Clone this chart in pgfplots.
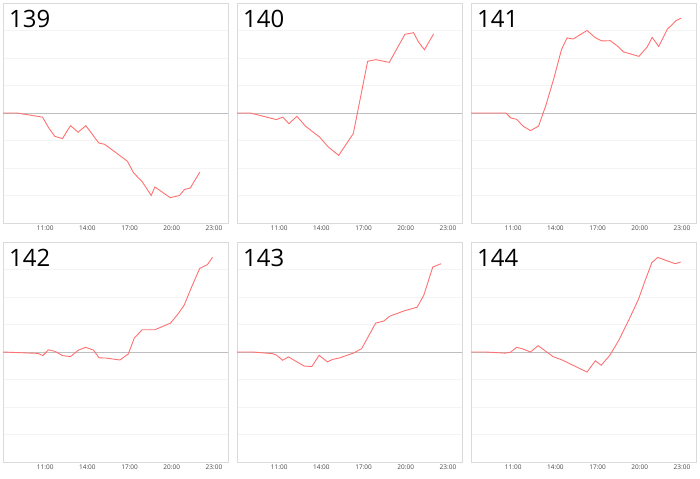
\documentclass[border=0pt]{standalone}
\usepackage{pgfplots}
\pgfplotsset{compat=1.18}
\usepackage{fontspec}
\setmainfont{Open Sans}
\definecolor{lred}{RGB}{255,112,112}
\definecolor{frame}{RGB}{218,218,218}
\definecolor{zline}{RGB}{190,190,190}
\definecolor{gridc}{RGB}{244,244,244}
\definecolor{tickc}{RGB}{70,70,70}
\pgfplotsset{
  panel/.style={
    scale only axis, width=225bp, height=220bp,
    xmin=8, xmax=24, ymin=-4, ymax=4,
    xtick={11,14,17,20,23},
    xticklabels={11:00,14:00,17:00,20:00,23:00},
    ytick={-3,-2,-1,1,2,3}, yticklabels={},
    ymajorgrids, major grid style={draw=gridc, line width=0.5pt},
    major tick length=0pt,
    axis line style={draw=frame, line width=0.8pt},
    tick label style={font=\fontsize{6.5}{7}\selectfont, text=tickc},
    xticklabel style={yshift=1bp},
    /pgf/number format/assume math mode=true,
    clip=false,
  },
  ser/.style={color=lred, line width=0.9pt, mark=none},
}
\newcommand{\zeroline}{\draw[zline, line width=0.8pt] (axis cs:8,0) -- (axis cs:24,0);}
\newcommand{\lab}[1]{\node[anchor=north west, inner sep=0pt, font=\fontsize{24}{24}\selectfont] at ([xshift=6bp,yshift=-7bp]rel axis cs:0,1) {#1};}
\begin{document}
\begin{tikzpicture}[x=1bp,y=1bp]
\useasboundingbox (0,0) rectangle (700,479);
% 139
\begin{axis}[panel, at={(3bp,256bp)}, anchor=south west]
\zeroline
\addplot[ser] coordinates {(8,0)(8.97,0)(10.81,-0.15)(11.26,-0.55)(11.69,-0.85)(12.23,-0.93)(12.8,-0.46)(13.34,-0.70)(13.89,-0.46)(14.81,-1.09)(15.23,-1.14)(16.84,-1.75)(17.29,-2.18)(17.9,-2.50)(18.54,-3.0)(18.8,-2.69)(19.89,-3.08)(20.55,-3.0)(20.91,-2.78)(21.31,-2.73)(22.0,-2.15)};
\lab{139}
\end{axis}
% 140
\begin{axis}[panel, at={(237bp,256bp)}, anchor=south west]
\zeroline
\addplot[ser] coordinates {(8,0)(8.95,0)(10.79,-0.24)(11.26,-0.15)(11.69,-0.39)(12.26,-0.12)(12.87,-0.48)(13.86,-0.87)(14.5,-1.24)(15.23,-1.54)(16.27,-0.75)(17.29,1.88)(17.88,1.94)(18.83,1.84)(19.94,2.86)(20.55,2.92)(20.91,2.58)(21.33,2.30)(21.97,2.87)};
\lab{140}
\end{axis}
% 141
\begin{axis}[panel, at={(471bp,256bp)}, anchor=south west]
\zeroline
\addplot[ser] coordinates {(8,0)(10.48,0)(10.83,-0.18)(11.24,-0.23)(11.71,-0.48)(12.23,-0.64)(12.8,-0.48)(13.32,0.27)(13.88,1.24)(14.43,2.30)(14.83,2.73)(15.26,2.69)(16.25,3.0)(16.86,2.73)(17.31,2.62)(17.9,2.63)(18.45,2.42)(18.85,2.22)(19.94,2.06)(20.53,2.40)(20.88,2.75)(21.35,2.42)(21.95,3.04)(22.59,3.36)(22.94,3.45)};
\lab{141}
\end{axis}
% 142
\begin{axis}[panel, at={(3bp,17bp)}, anchor=south west]
\zeroline
\addplot[ser] coordinates {(8,0)(10.48,-0.05)(10.83,-0.13)(11.24,0.08)(11.71,0.02)(12.23,-0.13)(12.8,-0.17)(13.36,0.07)(13.88,0.17)(14.43,0.07)(14.83,-0.21)(15.30,-0.22)(16.32,-0.29)(16.91,-0.07)(17.34,0.51)(17.9,0.81)(18.8,0.81)(19.91,1.05)(20.41,1.36)(20.88,1.70)(21.4,2.35)(21.99,3.04)(22.54,3.18)(22.9,3.44)};
\lab{142}
\end{axis}
% 143
\begin{axis}[panel, at={(237bp,17bp)}, anchor=south west]
\zeroline
\addplot[ser] coordinates {(8,0)(9.13,0)(10.53,-0.06)(10.83,-0.12)(11.24,-0.30)(11.66,-0.18)(12.77,-0.51)(13.32,-0.53)(13.84,-0.12)(14.43,-0.36)(14.79,-0.27)(15.26,-0.22)(16.28,-0.04)(16.86,0.12)(17.86,1.05)(18.45,1.13)(18.85,1.30)(19.91,1.50)(20.81,1.63)(21.28,2.06)(21.92,3.09)(22.51,3.21)};
\lab{143}
\end{axis}
% 144
\begin{axis}[panel, at={(471bp,17bp)}, anchor=south west]
\zeroline
\addplot[ser] coordinates {(8,0)(9.04,0)(10.41,-0.04)(10.81,-0.01)(11.24,0.17)(11.69,0.11)(12.23,0)(12.77,0.23)(13.84,-0.17)(14.48,-0.29)(16.25,-0.73)(16.84,-0.32)(17.26,-0.48)(17.86,-0.13)(18.49,0.41)(19.2,1.14)(19.91,1.92)(20.39,2.61)(20.86,3.25)(21.28,3.44)(22.51,3.21)(22.91,3.27)};
\lab{144}
\end{axis}
\end{tikzpicture}
\end{document}
